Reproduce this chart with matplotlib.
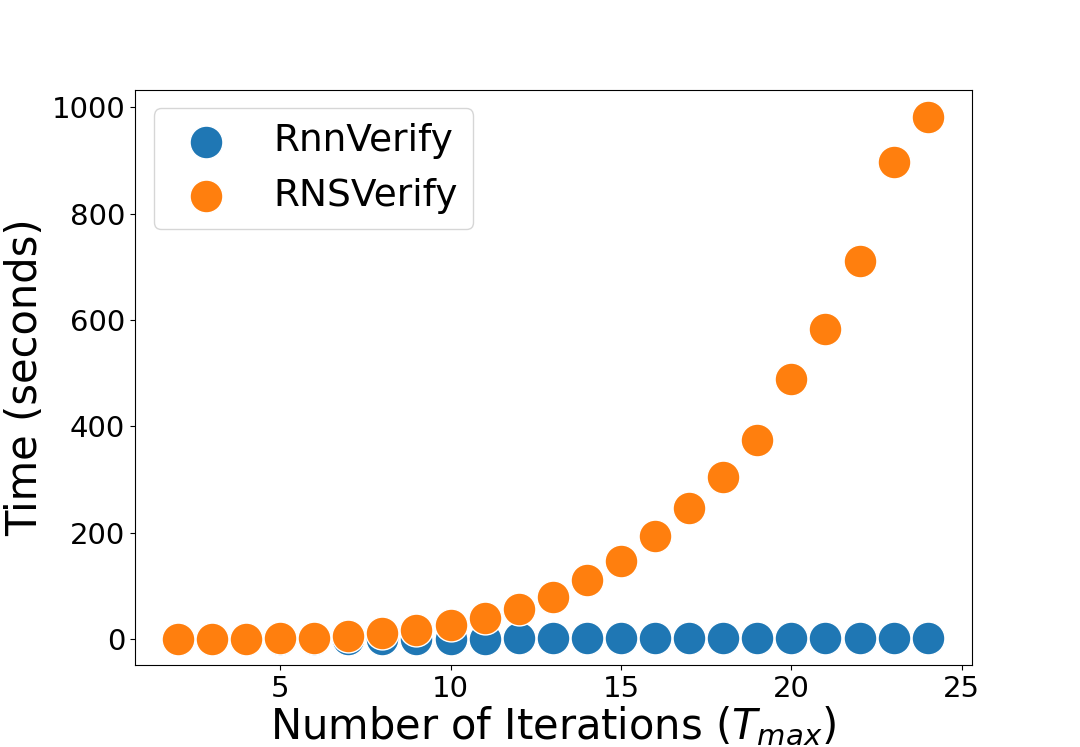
import matplotlib
matplotlib.use("Agg")
import matplotlib.pyplot as plt

iterations = list(range(2, 25))
rnnverify = [0.2, 0.3, 0.4, 0.5, 0.6, 0.7, 0.8, 0.9, 1.0, 1.1, 1.2, 1.3, 1.4,
             1.5, 1.6, 1.7, 1.8, 1.9, 2.0, 2.1, 2.2, 2.3, 2.4]
rnsverify = [0.2, 0.4, 0.8, 1.5, 3, 6, 10.7, 17.5, 27, 40.6, 57, 80, 111,
             147, 193, 247, 304, 374, 489, 583, 710, 896, 982]

fig, ax = plt.subplots(figsize=(10.8, 7.47), dpi=100)
ax.scatter(iterations, rnnverify, s=560, color="#1f77b4", edgecolors="white",
           linewidths=1, label="RnnVerify", zorder=2)
ax.scatter(iterations, rnsverify, s=560, color="#ff7f0e", edgecolors="white",
           linewidths=1, label="RNSVerify", zorder=3)

ax.set_xlabel(r"Number of Iterations ($T_{max}$)", fontsize=30, labelpad=2)
ax.set_ylabel("Time (seconds)", fontsize=30, labelpad=4)
ax.tick_params(axis="both", labelsize=21)
ax.set_xticks([5, 10, 15, 20, 25])
ax.set_yticks([0, 200, 400, 600, 800, 1000])
ax.set_xlim(0.74, 25.3)
ax.set_ylim(-48.3, 1032.9)
ax.legend(loc="upper left", fontsize=27)

fig.savefig("out.png", dpi=100)
